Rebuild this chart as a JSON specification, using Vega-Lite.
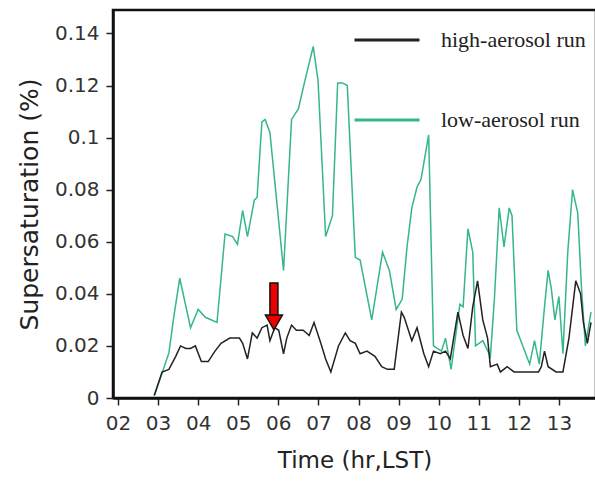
{
  "$schema": "https://vega.github.io/schema/vega-lite/v6.json",
  "width": 483,
  "height": 388,
  "autosize": {"type": "none"},
  "padding": {"left": 113, "top": 10, "right": 0, "bottom": 88},
  "background": "white",
  "config": {
    "view": {"stroke": "#111111", "strokeWidth": 2.5},
    "font": "DejaVu Sans"
  },
  "datasets": {
    "series": [
      {"t": 2.905, "s": 0.001, "run": "low-aerosol run"},
      {"t": 3.10, "s": 0.0096, "run": "low-aerosol run"},
      {"t": 3.27, "s": 0.0173, "run": "low-aerosol run"},
      {"t": 3.39, "s": 0.031, "run": "low-aerosol run"},
      {"t": 3.54, "s": 0.046, "run": "low-aerosol run"},
      {"t": 3.81, "s": 0.027, "run": "low-aerosol run"},
      {"t": 4.00, "s": 0.034, "run": "low-aerosol run"},
      {"t": 4.18, "s": 0.031, "run": "low-aerosol run"},
      {"t": 4.47, "s": 0.029, "run": "low-aerosol run"},
      {"t": 4.67, "s": 0.063, "run": "low-aerosol run"},
      {"t": 4.86, "s": 0.062, "run": "low-aerosol run"},
      {"t": 4.98, "s": 0.059, "run": "low-aerosol run"},
      {"t": 5.11, "s": 0.072, "run": "low-aerosol run"},
      {"t": 5.23, "s": 0.062, "run": "low-aerosol run"},
      {"t": 5.40, "s": 0.076, "run": "low-aerosol run"},
      {"t": 5.47, "s": 0.077, "run": "low-aerosol run"},
      {"t": 5.59, "s": 0.106, "run": "low-aerosol run"},
      {"t": 5.67, "s": 0.107, "run": "low-aerosol run"},
      {"t": 5.79, "s": 0.102, "run": "low-aerosol run"},
      {"t": 6.13, "s": 0.049, "run": "low-aerosol run"},
      {"t": 6.33, "s": 0.107, "run": "low-aerosol run"},
      {"t": 6.50, "s": 0.111, "run": "low-aerosol run"},
      {"t": 6.65, "s": 0.121, "run": "low-aerosol run"},
      {"t": 6.87, "s": 0.135, "run": "low-aerosol run"},
      {"t": 6.99, "s": 0.122, "run": "low-aerosol run"},
      {"t": 7.18, "s": 0.062, "run": "low-aerosol run"},
      {"t": 7.35, "s": 0.070, "run": "low-aerosol run"},
      {"t": 7.48, "s": 0.121, "run": "low-aerosol run"},
      {"t": 7.60, "s": 0.121, "run": "low-aerosol run"},
      {"t": 7.72, "s": 0.120, "run": "low-aerosol run"},
      {"t": 7.92, "s": 0.054, "run": "low-aerosol run"},
      {"t": 8.04, "s": 0.053, "run": "low-aerosol run"},
      {"t": 8.33, "s": 0.030, "run": "low-aerosol run"},
      {"t": 8.60, "s": 0.056, "run": "low-aerosol run"},
      {"t": 8.77, "s": 0.049, "run": "low-aerosol run"},
      {"t": 8.94, "s": 0.034, "run": "low-aerosol run"},
      {"t": 9.09, "s": 0.038, "run": "low-aerosol run"},
      {"t": 9.21, "s": 0.058, "run": "low-aerosol run"},
      {"t": 9.33, "s": 0.073, "run": "low-aerosol run"},
      {"t": 9.46, "s": 0.081, "run": "low-aerosol run"},
      {"t": 9.56, "s": 0.084, "run": "low-aerosol run"},
      {"t": 9.75, "s": 0.101, "run": "low-aerosol run"},
      {"t": 9.87, "s": 0.020, "run": "low-aerosol run"},
      {"t": 10.07, "s": 0.018, "run": "low-aerosol run"},
      {"t": 10.17, "s": 0.023, "run": "low-aerosol run"},
      {"t": 10.31, "s": 0.011, "run": "low-aerosol run"},
      {"t": 10.53, "s": 0.036, "run": "low-aerosol run"},
      {"t": 10.61, "s": 0.035, "run": "low-aerosol run"},
      {"t": 10.73, "s": 0.065, "run": "low-aerosol run"},
      {"t": 10.85, "s": 0.056, "run": "low-aerosol run"},
      {"t": 10.92, "s": 0.020, "run": "low-aerosol run"},
      {"t": 11.10, "s": 0.022, "run": "low-aerosol run"},
      {"t": 11.29, "s": 0.016, "run": "low-aerosol run"},
      {"t": 11.39, "s": 0.038, "run": "low-aerosol run"},
      {"t": 11.51, "s": 0.073, "run": "low-aerosol run"},
      {"t": 11.63, "s": 0.058, "run": "low-aerosol run"},
      {"t": 11.76, "s": 0.073, "run": "low-aerosol run"},
      {"t": 11.83, "s": 0.070, "run": "low-aerosol run"},
      {"t": 11.95, "s": 0.026, "run": "low-aerosol run"},
      {"t": 12.27, "s": 0.013, "run": "low-aerosol run"},
      {"t": 12.39, "s": 0.022, "run": "low-aerosol run"},
      {"t": 12.51, "s": 0.013, "run": "low-aerosol run"},
      {"t": 12.64, "s": 0.035, "run": "low-aerosol run"},
      {"t": 12.73, "s": 0.049, "run": "low-aerosol run"},
      {"t": 12.81, "s": 0.042, "run": "low-aerosol run"},
      {"t": 12.90, "s": 0.030, "run": "low-aerosol run"},
      {"t": 13.00, "s": 0.039, "run": "low-aerosol run"},
      {"t": 13.10, "s": 0.017, "run": "low-aerosol run"},
      {"t": 13.22, "s": 0.056, "run": "low-aerosol run"},
      {"t": 13.34, "s": 0.080, "run": "low-aerosol run"},
      {"t": 13.47, "s": 0.071, "run": "low-aerosol run"},
      {"t": 13.56, "s": 0.043, "run": "low-aerosol run"},
      {"t": 13.66, "s": 0.020, "run": "low-aerosol run"},
      {"t": 13.80, "s": 0.033, "run": "low-aerosol run"},
      {"t": 2.905, "s": 0.001, "run": "high-aerosol run"},
      {"t": 3.10, "s": 0.010, "run": "high-aerosol run"},
      {"t": 3.27, "s": 0.011, "run": "high-aerosol run"},
      {"t": 3.44, "s": 0.016, "run": "high-aerosol run"},
      {"t": 3.56, "s": 0.020, "run": "high-aerosol run"},
      {"t": 3.69, "s": 0.019, "run": "high-aerosol run"},
      {"t": 3.81, "s": 0.019, "run": "high-aerosol run"},
      {"t": 3.93, "s": 0.020, "run": "high-aerosol run"},
      {"t": 4.08, "s": 0.014, "run": "high-aerosol run"},
      {"t": 4.25, "s": 0.014, "run": "high-aerosol run"},
      {"t": 4.42, "s": 0.018, "run": "high-aerosol run"},
      {"t": 4.57, "s": 0.021, "run": "high-aerosol run"},
      {"t": 4.79, "s": 0.023, "run": "high-aerosol run"},
      {"t": 5.03, "s": 0.023, "run": "high-aerosol run"},
      {"t": 5.11, "s": 0.021, "run": "high-aerosol run"},
      {"t": 5.23, "s": 0.015, "run": "high-aerosol run"},
      {"t": 5.35, "s": 0.025, "run": "high-aerosol run"},
      {"t": 5.47, "s": 0.023, "run": "high-aerosol run"},
      {"t": 5.59, "s": 0.027, "run": "high-aerosol run"},
      {"t": 5.72, "s": 0.028, "run": "high-aerosol run"},
      {"t": 5.79, "s": 0.022, "run": "high-aerosol run"},
      {"t": 5.91, "s": 0.027, "run": "high-aerosol run"},
      {"t": 6.01, "s": 0.026, "run": "high-aerosol run"},
      {"t": 6.13, "s": 0.017, "run": "high-aerosol run"},
      {"t": 6.21, "s": 0.023, "run": "high-aerosol run"},
      {"t": 6.33, "s": 0.028, "run": "high-aerosol run"},
      {"t": 6.45, "s": 0.026, "run": "high-aerosol run"},
      {"t": 6.62, "s": 0.026, "run": "high-aerosol run"},
      {"t": 6.77, "s": 0.024, "run": "high-aerosol run"},
      {"t": 6.89, "s": 0.029, "run": "high-aerosol run"},
      {"t": 7.06, "s": 0.021, "run": "high-aerosol run"},
      {"t": 7.18, "s": 0.015, "run": "high-aerosol run"},
      {"t": 7.31, "s": 0.010, "run": "high-aerosol run"},
      {"t": 7.50, "s": 0.020, "run": "high-aerosol run"},
      {"t": 7.67, "s": 0.025, "run": "high-aerosol run"},
      {"t": 7.79, "s": 0.022, "run": "high-aerosol run"},
      {"t": 7.92, "s": 0.021, "run": "high-aerosol run"},
      {"t": 8.04, "s": 0.017, "run": "high-aerosol run"},
      {"t": 8.21, "s": 0.018, "run": "high-aerosol run"},
      {"t": 8.41, "s": 0.016, "run": "high-aerosol run"},
      {"t": 8.58, "s": 0.012, "run": "high-aerosol run"},
      {"t": 8.72, "s": 0.011, "run": "high-aerosol run"},
      {"t": 8.89, "s": 0.011, "run": "high-aerosol run"},
      {"t": 9.07, "s": 0.033, "run": "high-aerosol run"},
      {"t": 9.14, "s": 0.031, "run": "high-aerosol run"},
      {"t": 9.33, "s": 0.022, "run": "high-aerosol run"},
      {"t": 9.46, "s": 0.027, "run": "high-aerosol run"},
      {"t": 9.63, "s": 0.017, "run": "high-aerosol run"},
      {"t": 9.75, "s": 0.012, "run": "high-aerosol run"},
      {"t": 9.87, "s": 0.018, "run": "high-aerosol run"},
      {"t": 10.04, "s": 0.017, "run": "high-aerosol run"},
      {"t": 10.17, "s": 0.018, "run": "high-aerosol run"},
      {"t": 10.29, "s": 0.015, "run": "high-aerosol run"},
      {"t": 10.48, "s": 0.033, "run": "high-aerosol run"},
      {"t": 10.61, "s": 0.024, "run": "high-aerosol run"},
      {"t": 10.73, "s": 0.019, "run": "high-aerosol run"},
      {"t": 10.85, "s": 0.035, "run": "high-aerosol run"},
      {"t": 10.97, "s": 0.045, "run": "high-aerosol run"},
      {"t": 11.10, "s": 0.030, "run": "high-aerosol run"},
      {"t": 11.22, "s": 0.023, "run": "high-aerosol run"},
      {"t": 11.29, "s": 0.012, "run": "high-aerosol run"},
      {"t": 11.46, "s": 0.013, "run": "high-aerosol run"},
      {"t": 11.54, "s": 0.010, "run": "high-aerosol run"},
      {"t": 11.71, "s": 0.012, "run": "high-aerosol run"},
      {"t": 11.88, "s": 0.010, "run": "high-aerosol run"},
      {"t": 12.12, "s": 0.010, "run": "high-aerosol run"},
      {"t": 12.27, "s": 0.010, "run": "high-aerosol run"},
      {"t": 12.49, "s": 0.010, "run": "high-aerosol run"},
      {"t": 12.56, "s": 0.012, "run": "high-aerosol run"},
      {"t": 12.64, "s": 0.018, "run": "high-aerosol run"},
      {"t": 12.73, "s": 0.012, "run": "high-aerosol run"},
      {"t": 12.93, "s": 0.010, "run": "high-aerosol run"},
      {"t": 13.10, "s": 0.010, "run": "high-aerosol run"},
      {"t": 13.25, "s": 0.023, "run": "high-aerosol run"},
      {"t": 13.42, "s": 0.045, "run": "high-aerosol run"},
      {"t": 13.54, "s": 0.040, "run": "high-aerosol run"},
      {"t": 13.61, "s": 0.029, "run": "high-aerosol run"},
      {"t": 13.71, "s": 0.021, "run": "high-aerosol run"},
      {"t": 13.80, "s": 0.029, "run": "high-aerosol run"}
    ],
    "arrow": [
      {"t": 5.89, "top": 0.0442, "bottom": 0.0312, "head": 0.029}
    ]
  },
  "layer": [
    {
      "data": {"name": "series"},
      "mark": {"type": "line", "strokeWidth": 1.5, "clip": true},
      "encoding": {
        "x": {
          "field": "t", "type": "quantitative",
          "scale": {"domain": [2, 13.8], "nice": false, "zero": false},
          "axis": {
            "values": [2, 3, 4, 5, 6, 7, 8, 9, 10, 11, 12, 13],
            "labelExpr": "datum.value < 10 ? '0' + datum.value : '' + datum.value",
            "title": "Time (hr,LST)",
            "titleFont": "DejaVu Sans", "titleFontSize": 23, "titleFontWeight": "normal",
            "titleColor": "#222222", "titlePadding": 16,
            "labelFont": "DejaVu Sans", "labelFontSize": 20, "labelColor": "#333333",
            "labelPadding": 8, "labelDx": -3, "labelFlush": false, "labelOverlap": false,
            "tickSize": 7, "tickColor": "#222222", "tickWidth": 1.5,
            "domainColor": "#111111", "domainWidth": 2.5, "grid": false
          }
        },
        "y": {
          "field": "s", "type": "quantitative",
          "scale": {"domain": [0, 0.149], "nice": false},
          "axis": {
            "values": [0, 0.02, 0.04, 0.06, 0.08, 0.1, 0.12, 0.14],
            "format": ".2~f",
            "title": "Supersaturation (%)",
            "titleFont": "DejaVu Sans", "titleFontSize": 25, "titleFontWeight": "normal",
            "titleColor": "#222222", "titlePadding": 12,
            "labelFont": "DejaVu Sans", "labelFontSize": 20, "labelColor": "#333333",
            "labelPadding": 7, "labelFlush": false, "labelOverlap": false,
            "tickSize": 7, "tickColor": "#222222", "tickWidth": 1.5,
            "domainColor": "#111111", "domainWidth": 2.5, "grid": false
          }
        },
        "color": {
          "field": "run", "type": "nominal",
          "scale": {"domain": ["high-aerosol run", "low-aerosol run"], "range": ["#222222", "#35b68e"]},
          "legend": {
            "orient": "none", "legendX": 240, "legendY": -4, "title": null,
            "symbolType": "stroke", "symbolSize": 4225, "symbolStrokeWidth": 3,
            "labelFont": "Liberation Serif", "labelFontSize": 22, "labelColor": "#222222",
            "labelOffset": 20, "rowPadding": 35, "padding": 0, "labelLimit": 300
          }
        },
        "order": {"field": "t", "type": "quantitative"}
      }
    },
    {
      "data": {"name": "arrow"},
      "mark": {"type": "bar", "width": 8, "fill": "#ee0000", "stroke": "#111111", "strokeWidth": 1.5},
      "encoding": {
        "x": {"field": "t", "type": "quantitative"},
        "y": {"field": "top", "type": "quantitative"},
        "y2": {"field": "bottom"}
      }
    },
    {
      "data": {"name": "arrow"},
      "mark": {"type": "point", "shape": "triangle-down", "size": 289, "filled": true, "fill": "#ee0000", "stroke": "#111111", "strokeWidth": 1.5, "opacity": 1},
      "encoding": {
        "x": {"field": "t", "type": "quantitative"},
        "y": {"field": "head", "type": "quantitative"}
      }
    }
  ]
}
